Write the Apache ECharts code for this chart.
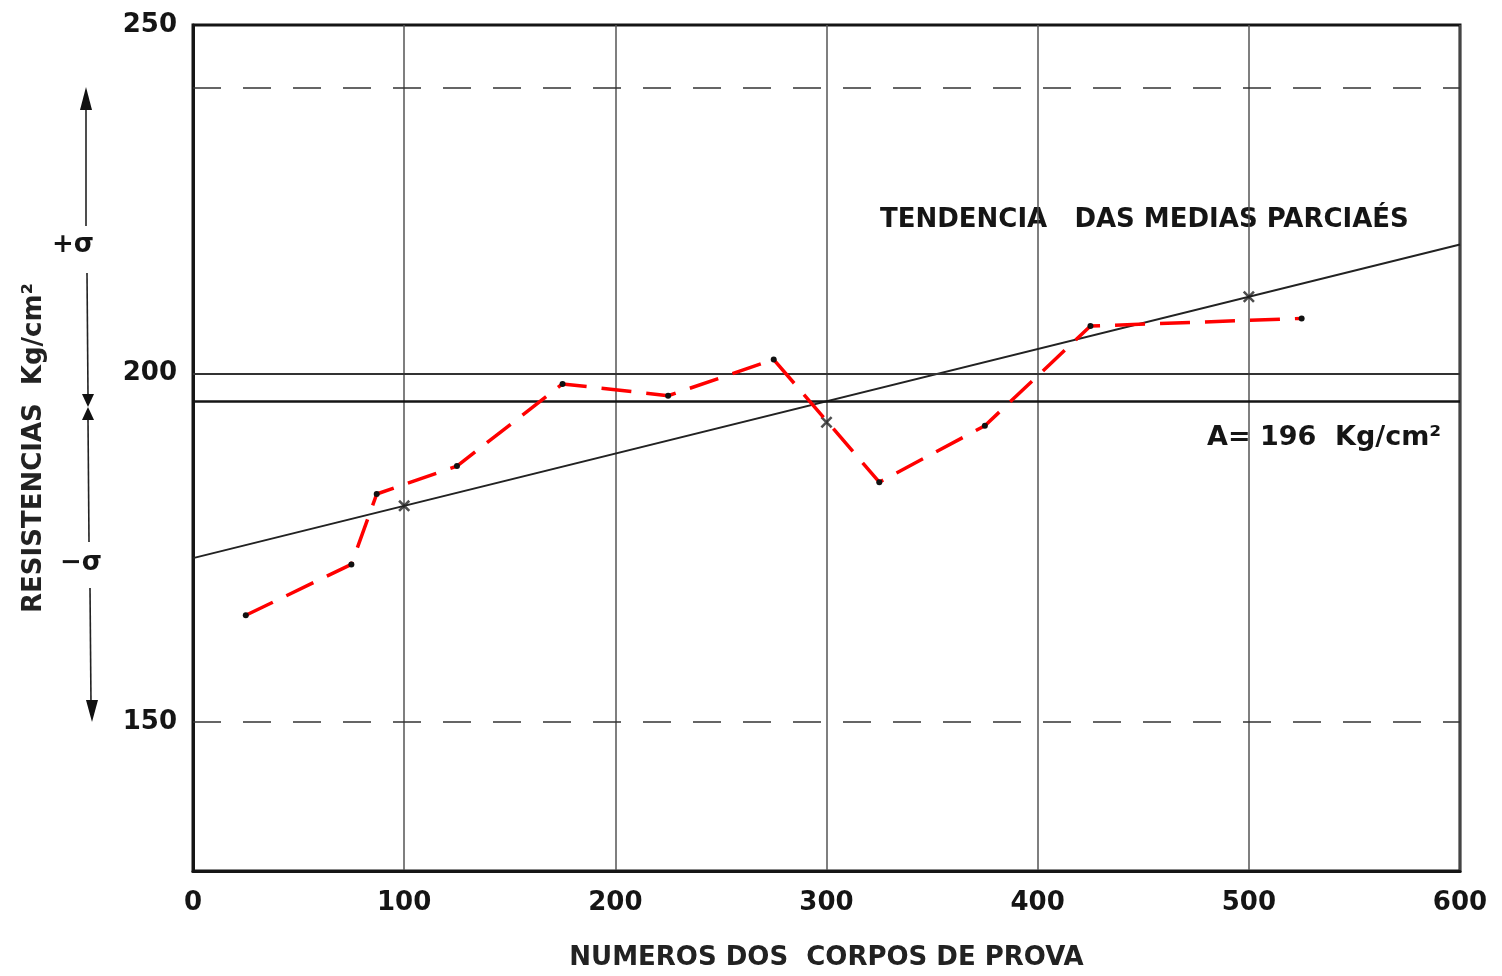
<!DOCTYPE html>
<html>
<head>
<meta charset="utf-8">
<script src="https://cdn.jsdelivr.net/npm/echarts@6/dist/echarts.min.js"></script>
<style>
html, body { margin: 0; padding: 0; background: #fff; }
#chart { width: 1502px; height: 976px; }
</style>
</head>
<body>
<div id="chart"></div>
<script>
// valores
const yTickValues = [150, 200, 250];
const partialX = [25, 75, 87, 125, 175, 225, 275, 325, 375, 425, 525];
const partialMeans = [165.3, 172.6, 182.7, 186.7, 198.5, 196.8, 202, 184.4, 192.5, 206.8, 207.9];
const trendX = [0, 600];
const trendY = [173.5, 218.5];
const sampleX = [100, 300, 500];
const sampleY = [181, 193, 211];
const overallMean = 196;
const referenceLevel = 200;
const plusSigma = 241;
const minusSigma = 150;

const FONT = 'DejaVu Sans';
const INK = '#151515';

var myChart = echarts.init(document.getElementById('chart'));

var option = {
    backgroundColor: '#fff',
    animation: false,
    grid: {
        left: 193, right: 42, top: 25, bottom: 101,
        show: true, borderColor: INK, borderWidth: 3
    },
    xAxis: {
        type: 'value',
        min: 0, max: 600, interval: 100,
        name: 'NUMEROS DOS  CORPOS DE PROVA',
        nameLocation: 'middle',
        nameGap: 74,
        nameTextStyle: { fontFamily: FONT, fontSize: 26, fontWeight: 'bold', color: '#222' },
        axisLine: { lineStyle: { color: INK, width: 3 } },
        axisTick: { show: false },
        axisLabel: { fontFamily: FONT, fontSize: 26, fontWeight: 'bold', color: INK, margin: 19 },
        splitLine: { show: true, lineStyle: { color: '#555', width: 1.5 } }
    },
    yAxis: {
        type: 'value',
        min: 128.6, max: 250,
        name: 'RESISTENCIAS  Kg/cm²',
        nameLocation: 'middle',
        nameRotate: 90,
        nameGap: 146,
        nameTextStyle: { fontFamily: FONT, fontSize: 26, fontWeight: 'bold', color: '#222' },
        axisLine: { lineStyle: { color: INK, width: 3 } },
        axisTick: { show: false },
        axisLabel: { customValues: yTickValues, fontFamily: FONT, fontSize: 26, fontWeight: 'bold', color: INK, margin: 16 },
        splitLine: { show: false }
    },
    series: [
        {
            name: 'tendencia',
            type: 'line',
            data: trendX.map((x, i) => [x, trendY[i]]),
            symbol: 'none',
            lineStyle: { color: '#222', width: 2 },
            z: 3,
            markLine: {
                silent: true,
                symbol: 'none',
                label: { show: false },
                data: [
                    { yAxis: referenceLevel, lineStyle: { color: '#333', width: 2, type: 'solid' } },
                    { yAxis: overallMean, lineStyle: { color: '#151515', width: 2.6, type: 'solid' } },
                    { yAxis: plusSigma, lineStyle: { color: '#333', width: 1.6, type: [28, 22] } },
                    { yAxis: minusSigma, lineStyle: { color: '#333', width: 1.6, type: [28, 22] } }
                ]
            }
        },
        {
            name: 'medias parciais',
            type: 'line',
            data: partialX.map((x, i) => [x, partialMeans[i]]),
            symbol: 'circle',
            symbolSize: 6,
            itemStyle: { color: '#111' },
            lineStyle: { color: '#ff0000', width: 3.5, type: [30, 15] },
            z: 5
        },
        {
            name: 'amostras',
            type: 'scatter',
            data: sampleX.map((x, i) => [x, sampleY[i]]),
            symbol: 'path://M0,1.5L1.5,0L5,3.5L8.5,0L10,1.5L6.5,5L10,8.5L8.5,10L5,6.5L1.5,10L0,8.5L3.5,5Z',
            symbolSize: 12,
            itemStyle: { color: '#222' },
            z: 4
        }
    ],
    graphic: [
        {
            type: 'text', left: 880, top: 207,
            style: { text: 'TENDENCIA   DAS MEDIAS PARCIAÉS', font: 'bold 26px "DejaVu Sans"', fill: INK }
        },
        {
            type: 'text', left: 1207, top: 424,
            style: { text: 'A= 196  Kg/cm²', font: 'bold 27px "DejaVu Sans"', fill: INK }
        },
        // seta de +/- sigma a esquerda
        { type: 'line', shape: { x1: 86, y1: 104, x2: 86, y2: 226 }, style: { stroke: '#222', lineWidth: 1.6 } },
        { type: 'line', shape: { x1: 87, y1: 273, x2: 88, y2: 395 }, style: { stroke: '#222', lineWidth: 1.6 } },
        { type: 'line', shape: { x1: 88, y1: 420, x2: 89, y2: 542 }, style: { stroke: '#222', lineWidth: 1.6 } },
        { type: 'line', shape: { x1: 90, y1: 588, x2: 91, y2: 704 }, style: { stroke: '#222', lineWidth: 1.6 } },
        { type: 'polygon', shape: { points: [[86, 87], [80, 110], [92, 110]] }, style: { fill: '#111' } },
        { type: 'polygon', shape: { points: [[92, 722], [86, 700], [98, 700]] }, style: { fill: '#111' } },
        { type: 'polygon', shape: { points: [[82, 394], [94, 394], [88, 407]] }, style: { fill: '#111' } },
        { type: 'polygon', shape: { points: [[82, 420], [94, 420], [88, 407]] }, style: { fill: '#111' } },
        {
            type: 'text', left: 52, top: 232,
            style: { text: '+σ', font: 'bold 26px "DejaVu Sans"', fill: INK }
        },
        {
            type: 'text', left: 60, top: 550,
            style: { text: '−σ', font: 'bold 26px "DejaVu Sans"', fill: INK }
        }
    ]
};

option && myChart.setOption(option);
window.addEventListener('resize', () => {
    myChart.resize();
});
</script>
</body>
</html>
